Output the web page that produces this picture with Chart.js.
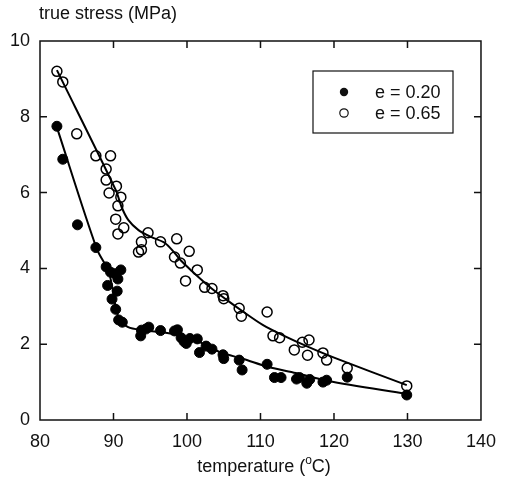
<!DOCTYPE html>
<html>
<head>
<meta charset="utf-8">
<script src="https://cdn.jsdelivr.net/npm/chart.js@4.4.0/dist/chart.umd.min.js"></script>
<style>
html, body { margin: 0; padding: 0; background: #fff; }
</style>
</head>
<body>
<canvas id="stressChart" width="507" height="487"></canvas>
<script>
// e = 0.20 measurements (filled)
var tempLow = [82.3, 83.1, 85.1, 87.6, 89.0, 89.6, 90.2, 91.0, 90.6, 89.2, 90.5, 89.8, 90.3, 90.7, 91.2,
    93.7, 93.8, 94.4, 94.8, 96.4, 98.3, 98.7, 99.2, 99.6, 99.9, 100.4, 101.4, 101.7, 102.6, 103.4,
    104.9, 105.0, 107.1, 107.5, 110.9, 111.9, 112.8, 114.9, 115.3, 116.3, 116.7, 118.5, 119.0, 121.8, 129.9];
var stressLow = [7.75, 6.88, 5.15, 4.55, 4.04, 3.90, 3.86, 3.96, 3.72, 3.55, 3.40, 3.19, 2.92, 2.64, 2.58,
    2.22, 2.37, 2.40, 2.45, 2.36, 2.35, 2.38, 2.17, 2.07, 2.02, 2.15, 2.14, 1.78, 1.95, 1.87,
    1.72, 1.62, 1.58, 1.32, 1.47, 1.12, 1.12, 1.08, 1.12, 0.97, 1.07, 1.00, 1.05, 1.13, 0.66];

// e = 0.65 measurements (open)
var tempHigh = [82.3, 83.1, 85.0, 87.6, 89.6, 89.0, 89.0, 90.4, 89.4, 91.0, 90.6, 90.3, 91.4, 90.6,
    94.7, 96.4, 98.6, 93.8, 93.8, 93.4, 100.3, 98.3, 99.1, 101.4, 99.8, 102.4, 103.4, 104.9, 105.0,
    107.1, 107.4, 110.9, 111.7, 112.6, 114.6, 115.7, 116.6, 116.4, 118.5, 119.0, 121.8, 129.9];
var stressHigh = [9.20, 8.92, 7.55, 6.97, 6.97, 6.62, 6.33, 6.17, 5.99, 5.88, 5.65, 5.30, 5.07, 4.91,
    4.94, 4.70, 4.78, 4.70, 4.49, 4.43, 4.45, 4.30, 4.14, 3.96, 3.67, 3.50, 3.47, 3.28, 3.20,
    2.95, 2.74, 2.85, 2.22, 2.17, 1.85, 2.05, 2.11, 1.71, 1.77, 1.58, 1.37, 0.90];

// fitted curves
var fitLowT = [82.3, 87.7, 89.4, 90.7, 92.0, 94.0, 96.4, 98.7, 101.4, 104.5, 107.7, 111.1, 114.8, 119.2, 129.9];
var fitLowS = [7.72, 4.53, 3.88, 2.69, 2.45, 2.37, 2.32, 2.24, 2.08, 1.79, 1.61, 1.40, 1.24, 1.03, 0.69];
var fitHighT = [82.3, 90.3, 91.1, 92.0, 93.4, 95.1, 97.0, 98.3, 99.1, 100.5, 103.1, 105.4, 107.7, 110.3, 113.0, 116.5, 120.1, 129.9];
var fitHighS = [9.23, 6.07, 5.62, 5.28, 5.01, 4.83, 4.67, 4.41, 4.22, 3.96, 3.51, 3.17, 2.85, 2.51, 2.24, 1.93, 1.64, 0.92];

var seriesNames = ['e = 0.20', 'e = 0.65'];
var yTitle = 'true stress (MPa)';

function pts(xs, ys) {
    return xs.map(function (x, i) { return {x: x, y: ys[i]}; });
}

var FONT = '"Liberation Sans", Arial, sans-serif';

var frameAndText = {
    id: 'frameAndText',
    afterDraw: function (chart) {
        var ctx = chart.ctx, a = chart.chartArea;
        var xs = chart.scales.x, ys = chart.scales.y;
        ctx.save();
        ctx.strokeStyle = '#111';
        ctx.lineWidth = 1.5;
        ctx.strokeRect(a.left, a.top, a.right - a.left, a.bottom - a.top);
        // inward ticks on all four sides
        ctx.beginPath();
        xs.ticks.forEach(function (t) {
            if (t.value <= xs.min || t.value >= xs.max) return;
            var px = xs.getPixelForValue(t.value);
            ctx.moveTo(px, a.bottom); ctx.lineTo(px, a.bottom - 7);
            ctx.moveTo(px, a.top); ctx.lineTo(px, a.top + 7);
        });
        ys.ticks.forEach(function (t) {
            if (t.value <= ys.min || t.value >= ys.max) return;
            var py = ys.getPixelForValue(t.value);
            ctx.moveTo(a.left, py); ctx.lineTo(a.left + 7, py);
            ctx.moveTo(a.right, py); ctx.lineTo(a.right - 7, py);
        });
        ctx.stroke();

        // axis titles
        ctx.fillStyle = '#111';
        ctx.font = '18px ' + FONT;
        ctx.textBaseline = 'middle';
        ctx.textAlign = 'left';
        ctx.fillText(yTitle, 39, 14);
        // x title with raised "o" for degrees
        var p1 = 'temperature (', p2 = 'o', p3 = 'C)';
        var w1 = ctx.measureText(p1).width, w3 = ctx.measureText(p3).width;
        ctx.font = '12px ' + FONT;
        var w2 = ctx.measureText(p2).width;
        var x0 = 264 - (w1 + w2 + w3) / 2;
        ctx.font = '18px ' + FONT;
        ctx.fillText(p1, x0, 467);
        ctx.fillText(p3, x0 + w1 + w2, 467);
        ctx.font = '12px ' + FONT;
        ctx.fillText(p2, x0 + w1, 461);

        // legend
        var lx = a.left + 273, ly = a.top + 30, lw = 140, lh = 62;
        ctx.lineWidth = 1.2;
        ctx.strokeRect(lx, ly, lw, lh);
        ctx.beginPath();
        ctx.arc(lx + 31, ly + 21, 4.2, 0, Math.PI * 2);
        ctx.fill();
        ctx.beginPath();
        ctx.arc(lx + 31, ly + 42, 4.2, 0, Math.PI * 2);
        ctx.stroke();
        ctx.font = '18px ' + FONT;
        ctx.textAlign = 'left';
        ctx.fillText(seriesNames[0], lx + 62, ly + 22);
        ctx.fillText(seriesNames[1], lx + 62, ly + 43);
        ctx.restore();
    }
};

document.addEventListener('DOMContentLoaded', function () {
    var ctx = document.getElementById('stressChart').getContext('2d');
    new Chart(ctx, {
        type: 'scatter',
        data: {
            datasets: [
                {label: seriesNames[0], data: pts(tempLow, stressLow), pointRadius: 5,
                    backgroundColor: '#000', borderColor: '#000', pointBorderWidth: 1},
                {label: seriesNames[1], data: pts(tempHigh, stressHigh), pointRadius: 5,
                    backgroundColor: 'rgba(0,0,0,0)', borderColor: '#000', pointBorderWidth: 1.5},
                {label: 'fit low', data: pts(fitLowT, fitLowS), showLine: true, pointRadius: 0,
                    borderColor: '#000', borderWidth: 2, tension: 0.3},
                {label: 'fit high', data: pts(fitHighT, fitHighS), showLine: true, pointRadius: 0,
                    borderColor: '#000', borderWidth: 2, tension: 0.3}
            ]
        },
        options: {
            responsive: false,
            animation: false,
            layout: {padding: {top: 41, right: 18, left: 0, bottom: 0}},
            plugins: {legend: {display: false}, tooltip: {enabled: false}},
            scales: {
                x: {
                    type: 'linear', min: 80, max: 140,
                    grid: {display: false, drawTicks: false},
                    border: {display: false},
                    ticks: {stepSize: 10, padding: 11, color: '#111', font: {size: 18, family: FONT}},
                    afterFit: function (s) { s.height = 67; }
                },
                y: {
                    min: 0, max: 10,
                    grid: {display: false, drawTicks: false},
                    border: {display: false},
                    ticks: {stepSize: 2, padding: 10, color: '#111', font: {size: 18, family: FONT}},
                    afterFit: function (s) { s.width = 40; }
                }
            }
        },
        plugins: [frameAndText]
    });
});
</script>
</body>
</html>
